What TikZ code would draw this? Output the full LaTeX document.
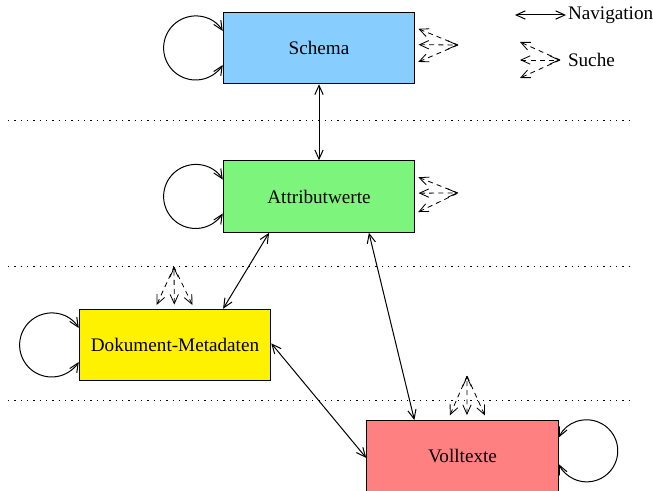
\documentclass[tikz,border=0pt]{standalone}
\usepackage{fontspec}
\setmainfont{Liberation Serif}
\usetikzlibrary{arrows.meta}

\begin{document}
\begin{tikzpicture}[x=0.6pt, y=0.6pt, >={Straight Barb[length=5.5pt,width=5pt]},
    level/.style={draw, line width=0.5pt, inner sep=0pt, minimum width=115pt, minimum height=43pt,
      font=\fontsize{11.5}{13}\selectfont},
    nav/.style={line width=0.6pt},
    search/.style={dashed, line width=0.5pt, dash pattern=on 3pt off 2.5pt},
    sep/.style={dash pattern=on 0.7pt off 3.1pt, line width=0.6pt}]
  \useasboundingbox (0,0) rectangle (653,-491);

  % levels
  \node[level, fill={rgb,255:red,135;green,206;blue,255}] (schema) at (319,-48) {Schema};
  \node[level, fill={rgb,255:red,125;green,245;blue,125}] (attr) at (319,-196.5) {Attributwerte};
  \node[level, fill=yellow] (meta) at (175,-345) {Dokument-Metadaten};
  \node[level, fill={rgb,255:red,255;green,128;blue,128}, anchor=north] (volltext) at (462.5,-420) {Volltexte};

  % separators
  \foreach \y in {-121,-266,-400}
    \draw[sep] (8,\y) -- (632,\y);

  % navigation
  \draw[nav,<->] (schema) -- (attr);
  \draw[nav,<->] (attr.216) -- (meta.37.5);
  \draw[nav,<->] (attr.324) -- (volltext.143);
  \draw[nav,<->] (meta.1) -- (volltext.181);

  % loops
  \draw[nav,<->] (schema.170) arc[start angle=32, end angle=328, radius=32];
  \draw[nav,<->] (attr.170) arc[start angle=32, end angle=328, radius=32];
  \draw[nav,<->] (meta.170) arc[start angle=32, end angle=328, radius=32];
  \draw[nav,<->] (volltext.11) arc[start angle=154.6, end angle=-154.6, radius=31];

  % search
  \coordinate (qschema) at (458,-45);
  \coordinate (qattr) at (458,-193);
  \coordinate (qmeta) at (174,-267);
  \coordinate (qvoll) at (467,-376);
  \foreach \a in {12,-9} \draw[search,<-,shorten <=2pt] (schema.\a) -- (qschema);
  \draw[search,<->,shorten <=2pt] (schema.2) -- (qschema);
  \foreach \a in {12,-10} \draw[search,<-,shorten <=2pt] (attr.\a) -- (qattr);
  \draw[search,<->,shorten <=2pt] (attr.2) -- (qattr);
  \foreach \a in {119,62} \draw[search,<-,shorten <=2.5pt] (meta.\a) -- (qmeta);
  \draw[search,<->,shorten <=2.5pt] (meta.91) -- (qmeta);
  \foreach \a in {112,56} \draw[search,<-,shorten <=3pt] (volltext.\a) -- (qvoll);
  \draw[search,<->,shorten <=3pt] (volltext.83) -- (qvoll);

  % legend
  \node[right, inner sep=1pt, font=\fontsize{11.5}{13}\selectfont] (navlabel) at (566,-15) {Navigation};
  \coordinate (navstart) at (515,-15);
  \draw[nav,<->] (navstart) -- (navlabel.west);
  \node[right, inner sep=1pt, font=\fontsize{11.5}{13}\selectfont] (suchlabel) at (566,-60) {Suche};
  \coordinate (qlegend) at (560,-60);
  \coordinate (tipa) at (520,-42);
  \coordinate (tipb) at (520,-60);
  \coordinate (tipc) at (520,-78);
  \draw[search,->] (qlegend) -- (tipa);
  \draw[search,<->] (tipb) -- (qlegend);
  \draw[search,->] (qlegend) -- (tipc);
\end{tikzpicture}
\end{document}
